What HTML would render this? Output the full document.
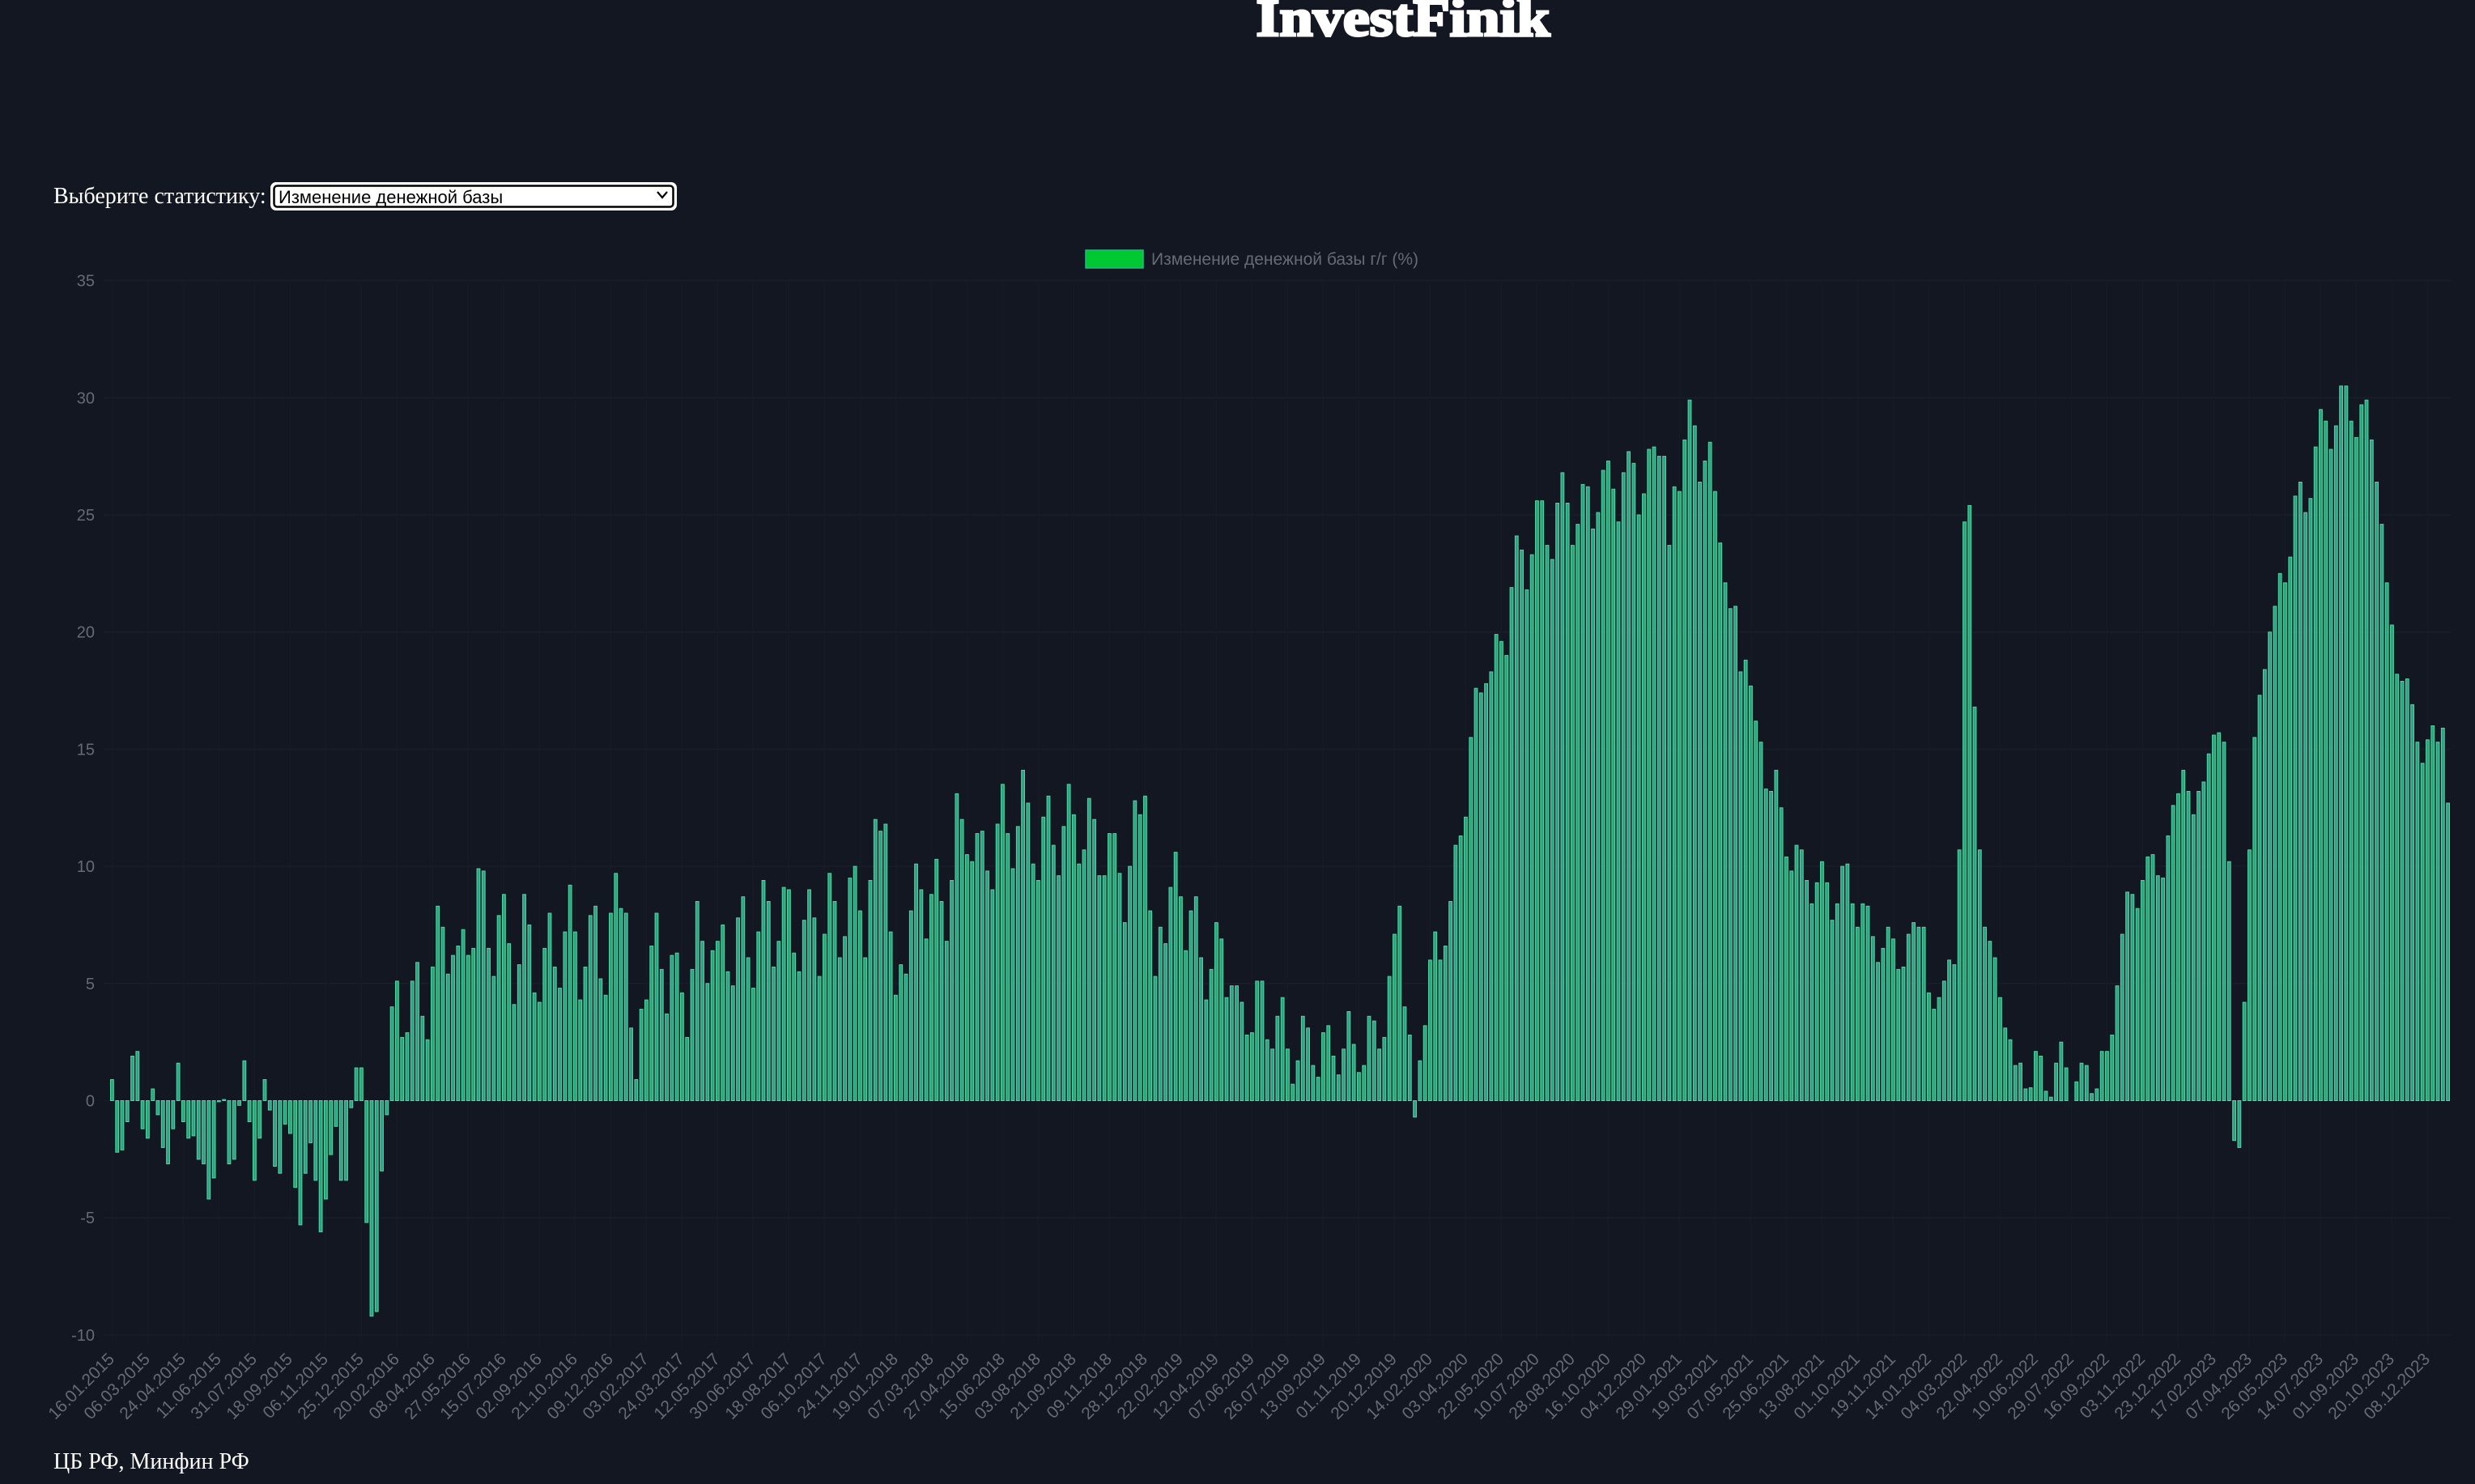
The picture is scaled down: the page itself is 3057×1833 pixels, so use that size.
<!DOCTYPE html>
<html><head><meta charset="utf-8">
<style>
html,body{margin:0;padding:0;background:#131722;width:3057px;height:1833px;overflow:hidden}
svg{display:block}
</style></head><body>
<svg id="s" width="3057" height="1833" xmlns="http://www.w3.org/2000/svg">
<rect width="3057" height="1833" fill="#131722"/>
<text x="1733" y="44" text-anchor="middle" font-family="Liberation Serif, serif" font-weight="bold" font-size="66" fill="#fff" stroke="#fff" stroke-width="3" textLength="363" lengthAdjust="spacingAndGlyphs">InvestFinik</text>
<text x="66" y="251" font-family="Liberation Serif, serif" font-size="28" fill="#fff">Выберите статистику:</text>
<rect x="335" y="226" width="500" height="33" rx="6" fill="#fff" stroke="#fff" stroke-width="2"/>
<rect x="338.5" y="229.5" width="493" height="26" rx="4" fill="#fff" stroke="#000" stroke-width="2.5"/>
<text x="344" y="251" font-family="Liberation Sans, sans-serif" font-size="22" fill="#000">Изменение денежной базы</text>
<path d="M812 237 l6 7 l6 -7" fill="none" stroke="#000" stroke-width="2.2"/>
<rect x="1341" y="309" width="71" height="22" fill="#00c832" stroke="#2bb58a" stroke-width="1.5"/>
<text x="1422" y="327" font-family="Liberation Sans, sans-serif" font-size="21" fill="#666a72">Изменение денежной базы г/г (%)</text>
<text x="66" y="1814" font-family="Liberation Serif, serif" font-size="28" fill="#fff">ЦБ РФ, Минфин РФ</text>
<g id="grid"></g><g id="bars"></g><g id="lab"></g>
</svg>
<script>
var d=[0.9,-2.2,-2.1,-0.9,1.9,2.1,-1.2,-1.6,0.5,-0.6,-2.0,-2.7,-1.2,1.6,-0.9,-1.6,-1.5,-2.5,-2.7,-4.2,-3.3,-0.05,0.05,-2.7,-2.5,-0.2,1.7,-0.9,-3.4,-1.6,0.9,-0.4,-2.8,-3.1,-1.0,-1.4,-3.7,-5.3,-3.1,-1.8,-3.4,-5.6,-4.2,-2.3,-1.1,-3.4,-3.4,-0.3,1.4,1.4,-5.2,-9.2,-9.0,-3.0,-0.6,
4.0,5.1,2.7,2.9,5.1,5.9,3.6,2.6,5.7,8.3,7.4,5.4,6.2,6.6,7.3,6.2,6.5,9.9,9.8,6.5,5.3,7.9,8.8,6.7,4.1,5.8,8.8,7.5,4.6,4.2,6.5,8.0,5.7,4.8,7.2,9.2,7.2,4.3,5.7,7.9,8.3,5.2,4.5,8.0,9.7,8.2,8.0,3.1,0.9,3.9,4.3,6.6,8.0,5.6,3.7,6.2,6.3,4.6,2.7,5.6,8.5,6.8,5.0,6.4,6.8,7.5,5.5,4.9,7.8,8.7,6.1,4.8,7.2,9.4,8.5,5.7,6.8,9.1,9.0,6.3,5.5,7.7,9.0,7.8,5.3,7.1,9.7,8.5,6.1,7.0,9.5,10.0,8.1,6.1,9.4,12.0,11.5,11.8,7.2,4.5,5.8,5.4,8.1,10.1,9.0,
6.9,8.8,10.3,8.5,6.8,9.4,13.1,12.0,10.5,10.2,11.4,11.5,9.8,9.0,11.8,13.5,11.4,9.9,11.7,14.1,12.7,10.1,9.4,12.1,13.0,10.9,9.6,11.7,13.5,12.2,10.1,10.7,12.9,12.0,9.6,9.6,11.4,11.4,9.7,7.6,10.0,12.8,12.2,13.0,8.1,5.3,7.4,6.7,9.1,10.6,8.7,6.4,8.1,8.7,6.1,4.3,5.6,7.6,6.9,4.4,4.9,4.9,4.2,2.8,2.9,5.1,5.1,2.6,2.2,3.6,4.4,2.2,0.7,1.7,3.6,3.1,1.5,1.0,2.9,3.2,1.9,1.1,2.2,3.8,2.4,1.2,1.5,3.6,3.4,2.2,2.7,5.3,7.1,8.3,4.0,2.8,-0.7,1.7,3.2,6.0,7.2,6.0,6.6,8.5,10.9,11.3,12.1,15.5,
17.6,17.4,17.8,18.3,19.9,19.6,19.0,21.9,24.1,23.5,21.8,23.3,25.6,25.6,23.7,23.1,25.5,26.8,25.5,23.7,24.6,26.3,26.2,24.4,25.1,26.9,27.3,26.1,24.7,26.8,27.7,27.2,25.0,25.9,27.8,27.9,27.5,27.5,23.7,26.2,26.0,28.2,29.9,28.8,26.4,27.3,28.1,26.0,23.8,22.1,21.0,21.1,18.3,18.8,17.7,16.2,15.3,13.3,13.2,14.1,12.5,10.4,9.8,10.9,10.7,9.4,8.4,9.3,10.2,9.3,7.7,8.4,10.0,10.1,8.4,7.4,8.4,8.3,7.0,5.9,6.5,7.4,6.9,5.6,5.7,7.1,7.6,7.4,7.4,4.6,3.9,4.4,5.1,6.0,5.8,10.7,24.7,25.4,16.8,10.7,
7.4,6.8,6.1,4.4,3.1,2.6,1.5,1.6,0.5,0.55,2.1,1.9,0.4,0.15,1.6,2.5,1.4,0,0.8,1.6,1.5,0.3,0.5,2.1,2.1,2.8,4.9,7.1,8.9,8.8,8.2,9.4,10.4,10.5,9.6,9.5,11.3,12.6,13.1,14.1,13.2,12.2,13.2,13.6,14.8,15.6,15.7,15.3,10.2,-1.7,-2.0,4.2,10.7,15.5,17.3,18.4,20.0,21.1,22.5,22.1,23.2,25.8,26.4,25.1,25.7,27.9,29.5,29.0,27.8,28.8,30.5,30.5,29.0,28.3,29.7,29.9,28.2,26.4,24.6,22.1,20.3,18.2,17.9,18.0,16.9,15.3,14.4,15.4,16.0,15.3,15.9,12.7];
var lbl=["16.01.2015","06.03.2015","24.04.2015","11.06.2015","31.07.2015","18.09.2015","06.11.2015","25.12.2015","20.02.2016","08.04.2016","27.05.2016","15.07.2016","02.09.2016","21.10.2016","09.12.2016","03.02.2017","24.03.2017","12.05.2017","30.06.2017","18.08.2017","06.10.2017","24.11.2017","19.01.2018","07.03.2018","27.04.2018","15.06.2018","03.08.2018","21.09.2018","09.11.2018","28.12.2018","22.02.2019","12.04.2019","07.06.2019","26.07.2019","13.09.2019","01.11.2019","20.12.2019","14.02.2020","03.04.2020","22.05.2020","10.07.2020","28.08.2020","16.10.2020","04.12.2020","29.01.2021","19.03.2021","07.05.2021","25.06.2021","13.08.2021","01.10.2021","19.11.2021","14.01.2022","04.03.2022","22.04.2022","10.06.2022","29.07.2022","16.09.2022","03.11.2022","23.12.2022","17.02.2023","07.04.2023","26.05.2023","14.07.2023","01.09.2023","20.10.2023","08.12.2023"];
var NS="http://www.w3.org/2000/svg";
function el(p,t,a,txt){var e=document.createElementNS(NS,t);for(var k in a)e.setAttribute(k,a[k]);if(txt!=null)e.textContent=txt;p.appendChild(e);return e;}
var N=d.length,x0=138.4,x1=3023.6,sp=(x1-x0)/(N-1);
var y0=1359.5,u=28.94,L=x0-sp/2,R=x1+sp/2;
var g=document.getElementById('grid'),b=document.getElementById('bars'),lb=document.getElementById('lab');
for(var v=-10;v<=35;v+=5){var y=y0-v*u;
 el(g,'line',{x1:L-8,x2:R,y1:y,y2:y,stroke:'#191e29','stroke-width':1.5});
 el(lb,'text',{x:117,y:y+7,'text-anchor':'end','font-family':'Liberation Sans, sans-serif','font-size':20,fill:'#666a72'},String(v));}
for(var j=0;j<lbl.length;j++){var gx=x0+j*7*sp;
 el(g,'line',{x1:gx,x2:gx,y1:y0-35*u,y2:y0+10*u+12,stroke:'#171b26','stroke-width':1.2});
 el(lb,'text',{x:0,y:0,'text-anchor':'end','font-family':'Liberation Sans, sans-serif','font-size':21,fill:'#666a72',transform:'translate('+(gx+4)+',1680) rotate(-45)'},lbl[j]);}
var bw=3.8;
for(var i=0;i<N;i++){var v=d[i];if(v===0)continue;var cx=x0+i*sp,h=Math.abs(v)*u,y=v>0?y0-h:y0;
 el(b,'rect',{x:(cx-bw/2).toFixed(2),y:y.toFixed(1),width:bw,height:Math.max(h,1).toFixed(1),fill:'#2aa57f',stroke:'#4fd6a4','stroke-width':1});}
</script>
</body></html>
